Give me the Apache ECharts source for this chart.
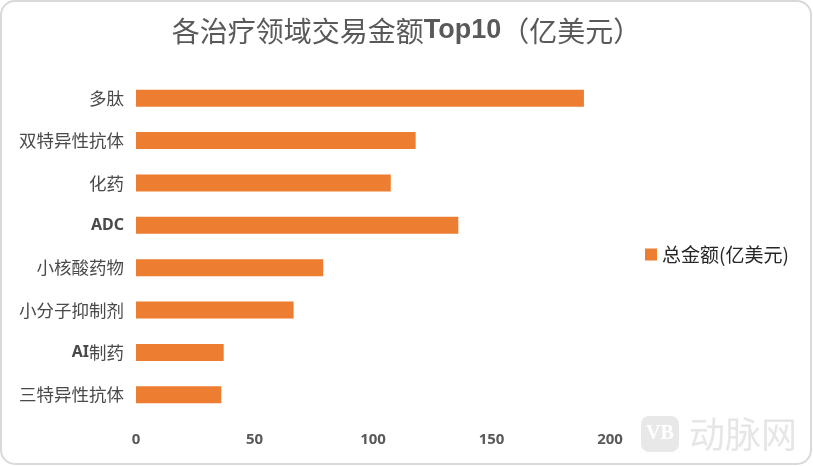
<!DOCTYPE html>
<html>
<head>
<meta charset="utf-8">
<script src="https://cdn.jsdelivr.net/npm/echarts@6/dist/echarts.min.js"></script>
<style>
  html, body { margin: 0; padding: 0; background: #fff; }
  #chart { width: 813px; height: 466px; }
</style>
</head>
<body>
<div id="chart"></div>
<script>
// 数据
const categories = ['多肽', '双特异性抗体', '化药', 'ADC', '小核酸药物', '小分子抑制剂', 'AI制药', '三特异性抗体']
const totalAmount = [189, 118, 107.5, 136, 79, 66.5, 37, 36]
const xTicks = [0, 50, 100, 150, 200]
const seriesName = '总金额(亿美元)'

const chart = echarts.init(document.getElementById('chart'))

// 英文部分加粗
function boldLatin(text) {
  return text.replace(/([A-Za-z0-9]+)/g, '{b|$1}').replace(/(^|\})([^{}]+)(?=\{|$)/g, '$1{a|$2}')
}

const option = {
  animation: false,
  title: {
    text: '{a|各治疗领域交易金额}{b|Top10}{a|（亿美元）}',
    left: 'center',
    top: 12,
    textStyle: {
      rich: {
        a: { fontFamily: 'Noto Sans CJK SC', fontSize: 28, color: '#595959', fontWeight: 'normal' },
        b: { fontFamily: 'Liberation Sans', fontSize: 27, color: '#595959', fontWeight: 'bold' }
      }
    }
  },
  legend: {
    data: [seriesName],
    orient: 'vertical',
    left: 640,
    top: 240,
    itemWidth: 12,
    itemHeight: 12,
    itemGap: 8,
    icon: 'rect',
    textStyle: { fontFamily: 'Noto Sans CJK SC', fontSize: 19, color: '#262626' }
  },
  grid: { left: 136, right: 203, top: 77, bottom: 50, containLabel: false },
  xAxis: {
    type: 'value',
    min: xTicks[0],
    max: xTicks[xTicks.length - 1],
    interval: 50,
    axisLine: { show: false },
    axisTick: { show: false },
    splitLine: { show: false },
    axisLabel: {
      margin: 16,
      fontFamily: 'Noto Sans',
      fontSize: 15,
      fontWeight: 'bold',
      color: '#595959'
    }
  },
  yAxis: {
    type: 'category',
    data: categories,
    inverse: true,
    axisLine: { show: false },
    axisTick: { show: false },
    axisLabel: {
      margin: 12,
      formatter: v => boldLatin(v),
      rich: {
        a: { fontFamily: 'Noto Sans CJK SC', fontSize: 17.5, color: '#4a4a4a' },
        b: { fontFamily: 'Noto Sans', fontSize: 16, fontWeight: 'bold', color: '#4a4a4a' }
      }
    }
  },
  series: [
    {
      name: seriesName,
      type: 'bar',
      data: totalAmount,
      barWidth: 17,
      itemStyle: { color: '#ED7D31' }
    }
  ],
  graphic: [
    {
      type: 'rect',
      shape: { x: 1, y: 1, width: 810, height: 463, r: 14 },
      style: { fill: 'none', stroke: '#d9d9d9', lineWidth: 2 },
      silent: true,
      z: -1
    },
    {
      type: 'group',
      left: 641,
      top: 416,
      silent: true,
      children: [
        {
          type: 'rect',
          shape: { x: 0, y: 0, width: 38, height: 36, r: 8 },
          style: { fill: '#e8e8e8' }
        },
        {
          type: 'text',
          x: 19, y: 18,
          style: { text: 'VB', fill: '#fff', font: 'bold 20px Liberation Serif', align: 'center', verticalAlign: 'middle' }
        },
        {
          type: 'text',
          x: 48, y: 18,
          style: { text: '动脉网', fill: '#e6e6e6', font: '36px "Noto Sans CJK SC"', verticalAlign: 'middle' }
        }
      ]
    }
  ]
}

chart.setOption(option)
</script>
</body>
</html>
